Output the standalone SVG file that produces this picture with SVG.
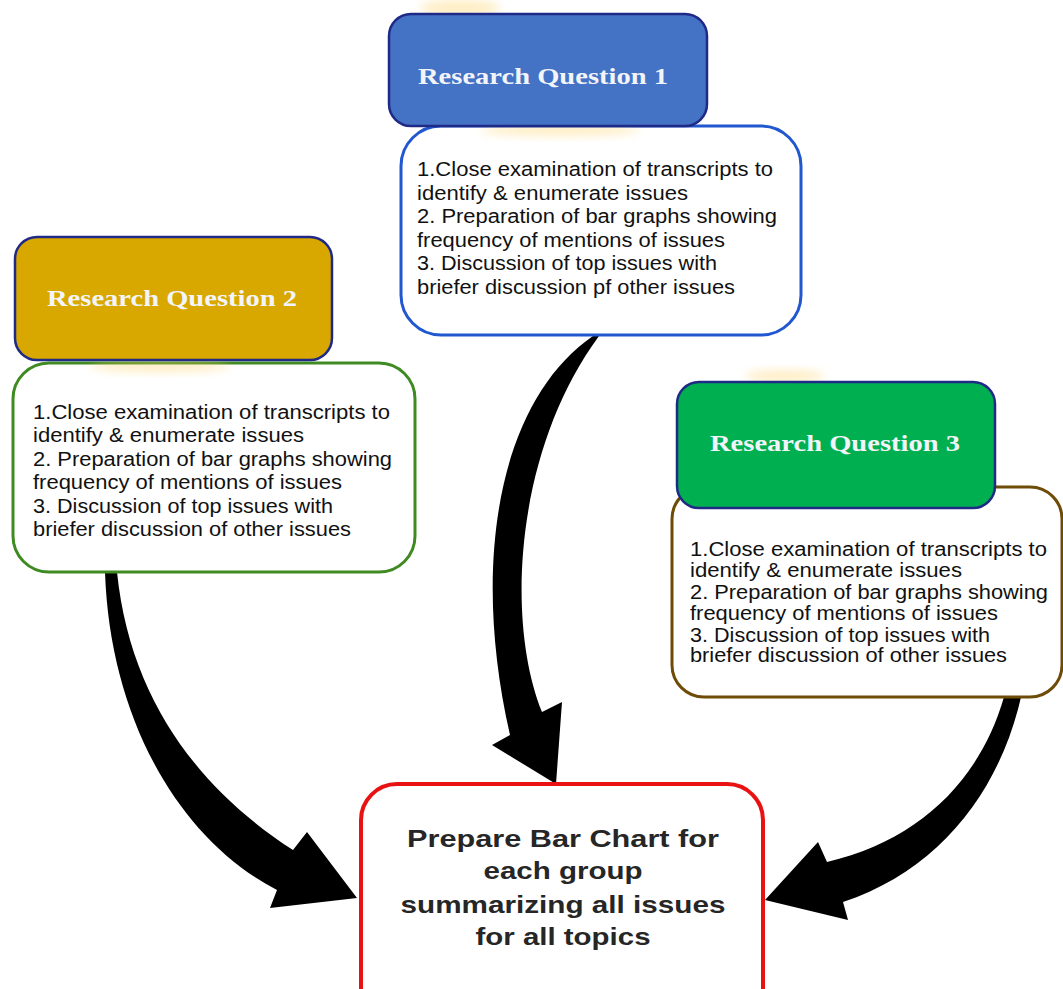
<svg xmlns="http://www.w3.org/2000/svg" width="1063" height="989" viewBox="0 0 1063 989">
<defs>
<filter id="glow" x="-50%" y="-50%" width="200%" height="200%"><feGaussianBlur stdDeviation="5"/></filter>
<style>
.hdr{stroke:#1F2A86;stroke-width:2.5}
.htxt{font-family:"Liberation Serif","Times New Roman",serif;font-weight:bold;font-size:23px;fill:#F2F4FA;text-anchor:middle}
.body{fill:#FFFFFF;stroke-width:3}
.btxt{font-family:"Liberation Sans",Arial,sans-serif;font-size:20px;fill:#111111}
.ftxt{font-family:"Liberation Sans",Arial,sans-serif;font-weight:bold;font-size:24px;fill:#262626;text-anchor:middle}
.arrow{fill:#000000}
.g{fill:#FFD36A;opacity:0.4}
</style>
</defs>
<rect width="1063" height="989" fill="#FFFFFF"/>

<g id="connectors">
<path class="arrow" d="M105,572 C110,720 180,840 277,890 L270,908 L357,898 L307,832 L293,850 C200,790 130,700 117,572 Z"/>
<path class="arrow" d="M593,336 C500,400 470,560 510,735 L492,745 L556,784 L562,702 L542,712 C505,620 515,450 599,336 Z"/>
<path class="arrow" d="M1004,697 C980,780 920,840 827,862 L818,842 L765,900 L848,920 L843,902 C940,870 1000,790 1021,697 Z"/>
</g>

<g id="rq1-body">
<rect class="body" x="401" y="126" width="400" height="209" rx="40" stroke="#2158D0"/>
<text class="btxt" x="417" y="176" textLength="356" lengthAdjust="spacingAndGlyphs">1.Close examination of transcripts to</text>
<text class="btxt" x="417" y="199.5" textLength="271" lengthAdjust="spacingAndGlyphs">identify &amp; enumerate issues</text>
<text class="btxt" x="417" y="223" textLength="360" lengthAdjust="spacingAndGlyphs">2. Preparation of bar graphs showing</text>
<text class="btxt" x="417" y="246.5" textLength="308" lengthAdjust="spacingAndGlyphs">frequency of mentions of issues</text>
<text class="btxt" x="417" y="270" textLength="300" lengthAdjust="spacingAndGlyphs">3. Discussion of top issues with</text>
<text class="btxt" x="417" y="293.5" textLength="318" lengthAdjust="spacingAndGlyphs">briefer discussion pf other issues</text>
</g>
<g id="rq1-header">
<ellipse class="g" cx="460" cy="8" rx="40" ry="8" filter="url(#glow)"/>
<ellipse class="g" cx="560" cy="130" rx="80" ry="6" filter="url(#glow)"/>
<rect class="hdr" x="389" y="14" width="318" height="112" rx="22" fill="#4472C4"/>
<text class="htxt" x="543" y="84" textLength="250" lengthAdjust="spacingAndGlyphs">Research Question 1</text>
</g>

<g id="rq2-body">
<rect class="body" x="13" y="363" width="402" height="209" rx="36" stroke="#3F8A22"/>
<text class="btxt" x="33" y="419" textLength="357" lengthAdjust="spacingAndGlyphs">1.Close examination of transcripts to</text>
<text class="btxt" x="33" y="442" textLength="271" lengthAdjust="spacingAndGlyphs">identify &amp; enumerate issues</text>
<text class="btxt" x="33" y="466" textLength="359" lengthAdjust="spacingAndGlyphs">2. Preparation of bar graphs showing</text>
<text class="btxt" x="33" y="489" textLength="309" lengthAdjust="spacingAndGlyphs">frequency of mentions of issues</text>
<text class="btxt" x="33" y="513" textLength="300" lengthAdjust="spacingAndGlyphs">3. Discussion of top issues with</text>
<text class="btxt" x="33" y="536" textLength="318" lengthAdjust="spacingAndGlyphs">briefer discussion of other issues</text>
</g>
<g id="rq2-header">
<ellipse class="g" cx="160" cy="366" rx="70" ry="6" filter="url(#glow)"/>
<rect class="hdr" x="15" y="237" width="317" height="123" rx="22" fill="#D9A800"/>
<text class="htxt" x="172" y="306" textLength="250" lengthAdjust="spacingAndGlyphs">Research Question 2</text>
</g>

<g id="rq3-body">
<rect class="body" x="672" y="487" width="390" height="210" rx="32" stroke="#6E4C08"/>
<text class="btxt" x="690" y="556" textLength="357" lengthAdjust="spacingAndGlyphs">1.Close examination of transcripts to</text>
<text class="btxt" x="690" y="577" textLength="272" lengthAdjust="spacingAndGlyphs">identify &amp; enumerate issues</text>
<text class="btxt" x="690" y="599" textLength="358" lengthAdjust="spacingAndGlyphs">2. Preparation of bar graphs showing</text>
<text class="btxt" x="690" y="620" textLength="308" lengthAdjust="spacingAndGlyphs">frequency of mentions of issues</text>
<text class="btxt" x="690" y="642" textLength="300" lengthAdjust="spacingAndGlyphs">3. Discussion of top issues with</text>
<text class="btxt" x="690" y="662" textLength="317" lengthAdjust="spacingAndGlyphs">briefer discussion of other issues</text>
</g>
<g id="rq3-header">
<ellipse class="g" cx="785" cy="376" rx="40" ry="6" filter="url(#glow)"/>
<rect class="hdr" x="677" y="382" width="318" height="126" rx="22" fill="#00B050"/>
<text class="htxt" x="835" y="451" textLength="250" lengthAdjust="spacingAndGlyphs">Research Question 3</text>
</g>

<g id="summary">
<rect x="361" y="784" width="402" height="240" rx="36" fill="#FFFFFF" stroke="#E81212" stroke-width="4"/>
<text class="ftxt" x="563" y="847" textLength="312" lengthAdjust="spacingAndGlyphs">Prepare Bar Chart for</text>
<text class="ftxt" x="563" y="879" textLength="159" lengthAdjust="spacingAndGlyphs">each group</text>
<text class="ftxt" x="563" y="913" textLength="325" lengthAdjust="spacingAndGlyphs">summarizing all issues</text>
<text class="ftxt" x="563" y="945" textLength="175" lengthAdjust="spacingAndGlyphs">for all topics</text>
</g>
</svg>
